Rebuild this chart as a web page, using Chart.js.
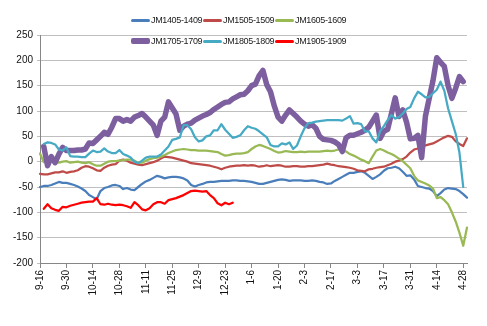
<!DOCTYPE html>
<html>
<head>
<meta charset="utf-8">
<script src="https://cdn.jsdelivr.net/npm/chart.js@4.4.1/dist/chart.umd.min.js"></script>
<style>
  html, body { margin: 0; padding: 0; background: #fff; }
  #wrap { position: relative; width: 487px; height: 326px; }
  #legend { position: absolute; left: 131px; top: 12px; width: 220px; font-family: "Liberation Sans", Arial, sans-serif; font-size: 9px; letter-spacing: -0.35px; color: #1a1a1a; }
  .row { display: flex; height: 16px; align-items: center; margin-bottom: 5px; }
  .item { display: flex; align-items: center; width: 72px; white-space: nowrap; }
  .sw { width: 19px; margin-right: 1px; border-radius: 2px; }
</style>
</head>
<body>
<div id="wrap">
  <canvas id="c" width="487" height="326"></canvas>
  <div id="legend"></div>
</div>
<script>
const dates = [
  "9-16","9-18","9-20","9-22","9-24","9-26","9-28","9-30",
  "10-2","10-4","10-6","10-8","10-10","10-12","10-14","10-16","10-18","10-20","10-22","10-24","10-26","10-28","10-30",
  "11-1","11-3","11-5","11-7","11-9","11-11","11-13","11-15","11-17","11-19","11-21","11-23","11-25","11-27","11-29",
  "12-1","12-3","12-5","12-7","12-9","12-11","12-13","12-15","12-17","12-19","12-21","12-23","12-25","12-27","12-29","12-31",
  "1-2","1-4","1-6","1-8","1-10","1-12","1-14","1-16","1-18","1-20","1-22","1-24","1-26","1-28","1-30",
  "2-1","2-3","2-5","2-7","2-9","2-11","2-13","2-15","2-17","2-19","2-21","2-23","2-25","2-27",
  "3-1","3-3","3-5","3-7","3-9","3-11","3-13","3-15","3-17","3-19","3-21","3-23","3-25","3-27","3-29","3-31",
  "4-2","4-4","4-6","4-8","4-10","4-12","4-14","4-16","4-18","4-20","4-22","4-24","4-26","4-28","4-30"
];

const yTicks = [-200, -150, -100, -50, 0, 50, 100, 150, 200, 250];

const jm1405 = [
  -50,-48,-48,-46,-43,-40,-42,-42,-44,-46,
  -49,-53,-58,-66,-70,-74,-58,-52,-50,-47,
  -46,-48,-54,-52,-55,-56,-50,-44,-39,-36,
  -32,-28,-30,-33,-31,-30,-30,-31,-33,-37,
  -46,-49,-46,-44,-41,-40,-40,-39,-38,-38,
  -38,-37,-37,-38,-38,-39,-40,-42,-44,-44,
  -42,-40,-38,-36,-35,-36,-38,-37,-37,-37,
  -38,-38,-37,-38,-40,-41,-44,-43,-38,-34,
  -30,-26,-22,-22,-20,-19,-22,-28,-34,-30,
  -25,-18,-13,-12,-10,-13,-20,-28,-27,-35,
  -48,-50,-52,-53,-58,-68,-62,-55,-52,-53,
  -54,-58,-64,-71
];

const jm1505 = [
  -24,-25,-25,-23,-21,-21,-19,-22,-20,-19,
  -17,-12,-9,-10,-13,-17,-18,-12,-8,-6,
  -5,2,4,2,-2,-4,-6,-7,-5,-3,
  -1,2,6,10,9,8,6,4,2,0,
  -3,-4,-5,-6,-7,-8,-10,-12,-15,-12,
  -10,-9,-8,-8,-7,-8,-7,-8,-10,-9,
  -7,-9,-8,-7,-8,-10,-10,-9,-9,-10,
  -10,-9,-9,-8,-7,-6,-4,-6,-7,-9,
  -10,-11,-12,-14,-17,-18,-19,-15,-14,-12,
  -11,-10,-7,-4,0,2,5,10,18,24,
  26,29,32,34,36,40,44,48,51,49,
  40,35,31,46
];

const jm1605 = [
  16,-1,0,0,-1,-2,0,1,-2,-1,
  0,-2,-3,-1,-5,-8,-8,-4,0,1,
  1,2,3,4,4,2,-2,-2,2,5,
  7,8,10,13,17,20,23,24,25,24,
  23,23,22,22,22,21,20,19,15,12,
  13,15,16,16,17,19,25,30,33,31,
  28,25,21,18,19,21,20,19,19,20,
  19,20,20,20,20,21,22,21,22,24,
  26,20,15,12,8,4,1,-3,10,22,
  25,22,18,15,11,6,1,-6,-13,-28,
  -37,-40,-43,-47,-53,-72,-70,-76,-84,-100,
  -118,-140,-166,-130
];

const jm1705 = [
  null,30,-8,10,-2,15,28,22,22,22,
  23,23,25,37,36,43,50,58,54,68,
  85,85,80,83,80,88,91,95,88,80,
  72,52,80,88,118,106,94,62,70,74,
  76,82,86,90,93,97,103,108,113,117,
  118,124,128,132,133,140,150,153,170,180,
  152,138,110,88,80,92,102,95,88,80,
  74,70,73,66,50,44,43,42,39,34,
  20,47,52,52,55,58,62,68,80,92,
  46,60,64,95,126,89,102,78,45,46,
  52,8,90,125,160,205,196,188,150,125,
  145,168,158,null
];

const jm1805 = [
  null,35,38,37,34,24,22,28,11,10,
  10,9,9,16,22,19,20,26,20,17,
  17,23,15,12,8,0,-3,2,8,10,
  10,10,14,22,30,43,45,48,72,72,
  64,48,40,42,50,52,62,62,74,63,
  55,47,49,52,62,70,67,65,60,54,
  48,33,30,30,36,34,38,25,32,50,
  66,76,77,79,80,81,82,82,82,82,
  81,85,90,75,76,74,60,60,46,38,
  60,70,82,92,85,88,95,104,108,125,
  138,133,127,128,135,142,158,140,105,80,
  55,18,-50,null
];

const jm1905 = [
  null,-93,-84,-92,-95,-97,-89,-90,-87,-85,
  -83,-81,-80,-79,-79,-72,-84,-85,-83,-85,
  -86,-85,-86,-88,-91,-80,-86,-94,-96,-92,
  -84,-80,-80,-83,-76,-74,-72,-69,-66,-62,
  -58,-57,-58,-59,-58,-66,-72,-82,-86,-81,
  -84,-81
];

const seriesNames = ["JM1405-1409","JM1505-1509","JM1605-1609","JM1705-1709","JM1805-1809","JM1905-1909"];
const seriesColors = ["#4a7ebb","#be4b48","#98b954","#7d5fa0","#46aac5","#ff0000"];
const seriesWidths = [2.25, 2.25, 2.25, 5.5, 2.25, 2.25];
const seriesData = [jm1405, jm1505, jm1605, jm1705, jm1805, jm1905];

const datasets = seriesData.map((d, k) => ({
  label: seriesNames[k],
  data: d,
  borderColor: seriesColors[k],
  backgroundColor: seriesColors[k],
  borderWidth: seriesWidths[k],
  pointRadius: 0,
  pointHoverRadius: 0,
  tension: 0,
  fill: false,
  spanGaps: false,
  borderJoinStyle: 'round',
  borderCapStyle: 'round',
  order: 5 - k
}));

const FONT = "'Liberation Sans', Arial, sans-serif";

new Chart(document.getElementById('c'), {
  type: 'line',
  data: { labels: dates, datasets: datasets },
  options: {
    responsive: false,
    animation: false,
    devicePixelRatio: 1,
    layout: { padding: { left: 2, right: 20, top: 35, bottom: 0 } },
    plugins: { legend: { display: false }, tooltip: { enabled: false } },
    scales: {
      x: {
        type: 'category',
        offset: false,
        grid: { display: true, drawOnChartArea: false, drawTicks: true, tickLength: 5, color: '#868686' },
        border: { display: true, color: '#868686' },
        ticks: {
          autoSkip: false,
          maxRotation: 90,
          minRotation: 90,
          padding: 2,
          color: '#111',
          font: { family: FONT, size: 10 },
          callback: function (value, index) { return index % 7 === 0 ? dates[index] : null; }
        },
        afterFit: function (scale) { scale.height = 63; }
      },
      y: {
        min: yTicks[0],
        max: yTicks[yTicks.length - 1],
        afterBuildTicks: function (scale) { scale.ticks = yTicks.map(v => ({ value: v })); },
        grid: { color: '#bfbfbf', lineWidth: 1, drawTicks: true, tickLength: 3 },
        border: { display: true, color: '#868686' },
        ticks: { color: '#111', padding: 4, font: { family: FONT, size: 10 } },
        afterFit: function (scale) { scale.width = 38; }
      }
    }
  }
});

// legend (two rows, like the reference)
const legend = document.getElementById('legend');
for (let r = 0; r < 2; r++) {
  const row = document.createElement('div');
  row.className = 'row';
  for (let c = 0; c < 3; c++) {
    const k = r * 3 + c;
    const item = document.createElement('div');
    item.className = 'item';
    const sw = document.createElement('span');
    sw.className = 'sw';
    sw.style.height = (k === 3 ? 6 : 3) + 'px';
    sw.style.background = seriesColors[k];
    const tx = document.createElement('span');
    tx.textContent = seriesNames[k];
    item.appendChild(sw);
    item.appendChild(tx);
    row.appendChild(item);
  }
  legend.appendChild(row);
}
</script>
</body>
</html>
